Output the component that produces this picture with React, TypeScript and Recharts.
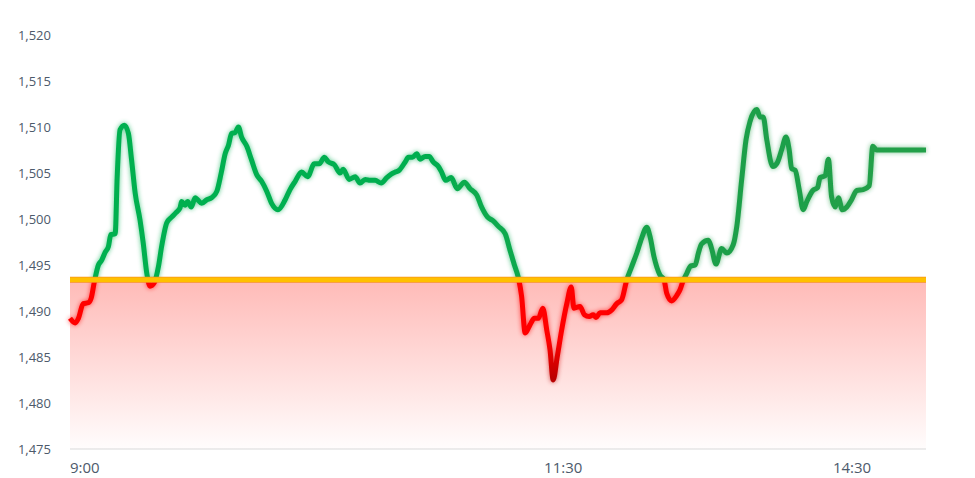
import React from "react";
import { LineChart, Line, XAxis, YAxis, ReferenceLine, ReferenceArea } from "recharts";

// sample position along the session (irregular steps) and the index level at that point
const pointIndex = [
  0, 1.3, 2.1, 3.3, 4.6, 5.3, 6.1, 7.1, 7.9, 8.8, 9.6, 10.2, 11.3, 11.8, 12.5, 13.6, 14.6, 15.4, 16.3, 17.5,
  18.3, 19.2, 20, 21.1, 22.1, 22.9, 24.2, 25.4, 26.5, 27.5, 27.9, 28.8, 29.4, 30.3, 31.3, 31.9, 32.9, 34.2, 35.4, 36.7,
  37.8, 38.8, 39.6, 40.4, 41.3, 42.1, 42.9, 44.2, 45.4, 46.7, 47.9, 49.2, 50.4, 52, 53.8, 55, 56.3, 57.9, 59.4, 61.1,
  62.3, 63.6, 64.6, 66.1, 67.5, 68.3, 69.8, 71.3, 72.5, 73.8, 75, 76.3, 77.8, 79.2, 80.4, 81.3, 82.3, 83.8, 84.6, 85.6,
  86.7, 87.5, 88.8, 89.8, 90.8, 92.1, 92.9, 93.9, 95.3, 96.8, 98.6, 100, 101.7, 102.9, 104.4, 105.8, 107.1, 108.8, 110, 111.1,
  112.1, 112.9, 113.8, 115, 116.1, 117.1, 118.2, 119.2, 120, 120.8, 121.8, 122.9, 124.2, 125.3, 126, 127.5, 128.6, 129.8, 130.8, 131.5,
  132.5, 134.2, 135.4, 136.7, 137.9, 139.2, 140.4, 141.7, 142.9, 144.2, 145, 146, 147.5, 148.5, 149.2, 150.4, 151.7, 152.5, 153.2, 154.2,
  155.2, 156.3, 157.1, 157.9, 159.6, 160.4, 161.5, 162.9, 164.2, 165.8, 166.7, 167.9, 169, 170, 171.7, 172.5, 173.3, 174.2, 175.7, 176.8,
  177.9, 179, 179.8, 180.4, 181.3, 182.3, 183.3, 184.2, 185.7, 186.9, 187.5, 188.8, 189.6, 190.4, 191.3, 192.1, 193.1, 194.2, 195.4, 196.7,
  198.3, 199.8, 200.7, 201.7, 214,
];

const price = [
  1489.2, 1488.7, 1489.2, 1490.8, 1490.9, 1491.4, 1493.2, 1495.0, 1495.5, 1496.4, 1497.0, 1498.3, 1498.4, 1504.6, 1509.7, 1510.2, 1509.3, 1506.4, 1502.8, 1499.9,
  1497.4, 1494.1, 1492.7, 1493.1, 1494.8, 1497.0, 1499.6, 1500.2, 1500.7, 1501.2, 1501.9, 1501.5, 1501.9, 1501.3, 1502.3, 1502.1, 1501.7, 1502.1, 1502.3, 1503.0,
  1505.0, 1507.1, 1508.0, 1509.3, 1509.4, 1510.0, 1508.9, 1507.9, 1506.4, 1504.8, 1504.1, 1503.0, 1501.7, 1501.0, 1502.1, 1503.2, 1504.1, 1505.1, 1504.6, 1506.0,
  1506.0, 1506.7, 1506.2, 1505.9, 1505.0, 1505.4, 1504.3, 1504.6, 1503.9, 1504.3, 1504.2, 1504.2, 1503.9, 1504.5, 1504.9, 1505.1, 1505.3, 1506.2, 1506.7, 1506.7,
  1507.1, 1506.5, 1506.8, 1506.8, 1506.2, 1505.7, 1505.1, 1504.2, 1504.5, 1503.3, 1504.0, 1503.3, 1502.6, 1501.3, 1500.2, 1499.8, 1499.2, 1498.4, 1496.6, 1495.0,
  1493.6, 1491.6, 1487.6, 1488.5, 1489.2, 1489.2, 1490.3, 1487.9, 1485.8, 1482.5, 1485.0, 1487.9, 1490.8, 1492.6, 1490.3, 1490.5, 1489.6, 1489.4, 1489.6, 1489.3,
  1489.8, 1489.8, 1490.1, 1490.8, 1491.2, 1493.4, 1494.8, 1496.3, 1497.9, 1499.1, 1498.1, 1495.9, 1493.9, 1493.4, 1491.9, 1491.1, 1491.7, 1492.3, 1493.2, 1494.1,
  1494.9, 1495.0, 1496.3, 1497.3, 1497.7, 1496.8, 1495.1, 1496.8, 1496.3, 1497.2, 1499.2, 1504.2, 1508.6, 1510.6, 1511.9, 1511.1, 1511.1, 1508.6, 1505.7, 1506.1,
  1507.5, 1508.9, 1507.5, 1505.5, 1505.3, 1503.2, 1501.0, 1501.9, 1503.1, 1503.4, 1504.5, 1504.7, 1506.5, 1502.4, 1501.3, 1502.3, 1501.0, 1501.3, 1502.1, 1503.1,
  1503.2, 1503.6, 1507.9, 1507.5, 1507.5,
];

const previousClose = 1493.4;
const yTicks = [1475, 1480, 1485, 1490, 1495, 1500, 1505, 1510, 1515, 1520];
const timeTicks = [0, 123.3, 195.5];
const timeLabels = ["9:00", "11:30", "14:30"];

const data = pointIndex.map((x, k) => ({ x, price: price[k] }));

const hi = Math.max(...price);
const lo = Math.min(...price);
const splitOff = (hi - previousClose) / (hi - lo);

const FONT = "'Open Sans', 'Noto Sans', sans-serif";

function TimeTick(props: any) {
  const { x, y, payload, index } = props;
  const k = timeTicks.indexOf(payload.value);
  return (
    <text
      x={x}
      y={y}
      dy={16}
      textAnchor={index === 0 ? "start" : "middle"}
      fill="#4d5a6b"
      fontSize={15}
      fontFamily={FONT}
    >
      {timeLabels[k >= 0 ? k : index]}
    </text>
  );
}

export default function App() {
  return (
    <div style={{ position: "absolute", left: 0, top: 0, width: 975, height: 478, background: "#fff" }}>
      <LineChart width={975} height={478} data={data} margin={{ top: 35, right: 49, bottom: 0, left: 0 }}>
        <defs>
          <linearGradient id="greenH" x1="0" y1="0" x2="1" y2="0">
            <stop offset="0" stopColor="#00B050" />
            <stop offset="0.4" stopColor="#03AE4F" />
            <stop offset="0.75" stopColor="#1D9F49" />
            <stop offset="1" stopColor="#22A04A" />
          </linearGradient>
          <linearGradient id="redV" x1="0" y1="0" x2="0" y2="1">
            <stop offset="0" stopColor="#FF0000" stopOpacity={0} />
            <stop offset={splitOff} stopColor="#FF0000" stopOpacity={0} />
            <stop offset={splitOff} stopColor="#FF0000" stopOpacity={1} />
            <stop offset={splitOff + (1 - splitOff) * 0.6} stopColor="#FF0000" />
            <stop offset="1" stopColor="#B80000" />
          </linearGradient>
          <linearGradient id="belowFill" x1="0" y1="0" x2="0" y2="1">
            <stop offset="0" stopColor="#FF1A10" stopOpacity={0.3} />
            <stop offset="1" stopColor="#FF1A10" stopOpacity={0.01} />
          </linearGradient>
          <mask id="aboveMask" maskContentUnits="objectBoundingBox">
            <rect x={-0.2} y={-0.5} width={1.4} height={0.5 + splitOff} fill="#fff" />
          </mask>
          <filter id="glow" x="-5%" y="-15%" width="110%" height="130%">
            <feGaussianBlur in="SourceGraphic" stdDeviation="2.8" result="blur" />
            <feComponentTransfer in="blur" result="soft">
              <feFuncA type="linear" slope="0.65" />
            </feComponentTransfer>
            <feMerge>
              <feMergeNode in="soft" />
              <feMergeNode in="SourceGraphic" />
            </feMerge>
          </filter>
        </defs>
        <XAxis
          dataKey="x"
          type="number"
          domain={[0, 214]}
          ticks={timeTicks}
          tick={<TimeTick />}
          tickLine={false}
          axisLine={{ stroke: "#D9D9D9" }}
          height={29}
          interval={0}
        />
        <YAxis
          domain={[1475, 1520]}
          ticks={yTicks}
          tickFormatter={(v) => v.toLocaleString("en-US")}
          tick={{ fontSize: 13, fill: "#4d5a6b", fontFamily: FONT }}
          tickLine={false}
          axisLine={false}
          tickMargin={13}
          width={70}
        />
        <ReferenceArea y1={1475} y2={previousClose} fill="url(#belowFill)" fillOpacity={1} stroke="none" />
        <Line
          type="monotone"
          dataKey="price"
          stroke="url(#greenH)"
          strokeWidth={5}
          dot={false}
          activeDot={false}
          isAnimationActive={false}
          mask="url(#aboveMask)"
          filter="url(#glow)"
        />
        <Line
          type="monotone"
          dataKey="price"
          stroke="url(#redV)"
          strokeWidth={5}
          dot={false}
          activeDot={false}
          isAnimationActive={false}
          filter="url(#glow)"
        />
        <ReferenceLine y={previousClose} stroke="#F7941D" strokeWidth={6} />
        <ReferenceLine y={previousClose} stroke="#FFC000" strokeWidth={4.5} />
      </LineChart>
    </div>
  );
}
